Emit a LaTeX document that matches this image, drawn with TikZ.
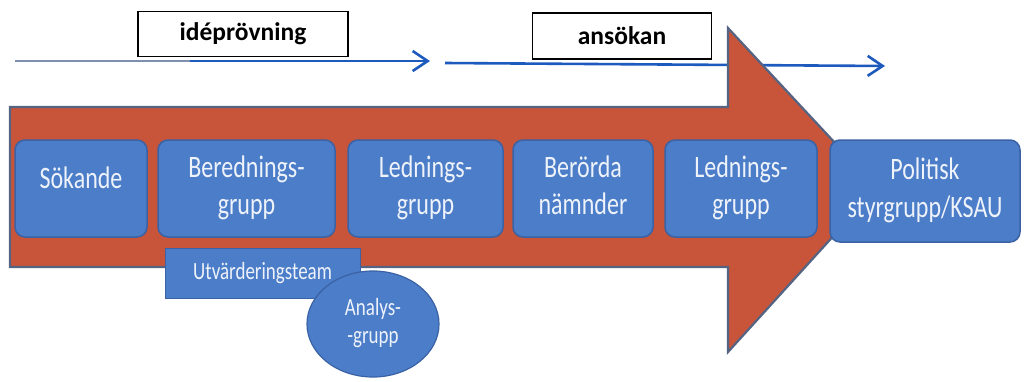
\documentclass[tikz,border=0pt]{standalone}
\usepackage{fontspec}
\setmainfont{Carlito}
\usetikzlibrary{arrows.meta,shapes.geometric}
\definecolor{arrowred}{RGB}{200,85,58}
\definecolor{arrowedge}{RGB}{85,100,130}
\definecolor{boxblue}{RGB}{75,125,200}
\definecolor{boxedge}{RGB}{58,98,165}
\definecolor{lineblue}{RGB}{30,90,190}
\definecolor{linegray}{RGB}{125,145,175}
\definecolor{txt}{RGB}{238,242,250}
\newcommand{\vst}[1]{\scalebox{1}[1.3]{\begin{tabular}{@{}c@{}}#1\end{tabular}}}
\tikzset{
  stepbox/.style={draw=boxedge, line width=1.5pt, fill=boxblue, rounded corners=10pt,
    text=txt, font=\fontsize{24}{29}\selectfont, inner sep=0pt, minimum height=97pt},
  labelbox/.style={draw=black, line width=1.6pt, fill=white, inner sep=0pt,
    font=\fontsize{25.5}{30}\selectfont\bfseries},
  flow/.style={draw=lineblue, line width=2.6pt, -{Straight Barb[length=15pt,width=20pt,line width=2.6pt]}},
  bigarrow/.style={draw=arrowedge, line width=2.2pt, fill=arrowred, line join=miter},
  smallbox/.style={draw=boxedge, line width=1.2pt, fill=boxblue, inner sep=0pt},
  smalltext/.style={text=txt, font=\fontsize{19}{22}\selectfont, inner sep=0pt}
}
\begin{document}
\begin{tikzpicture}[x=1pt,y=-1pt]
\useasboundingbox (0,0) rectangle (1028,381);
% flow lines
\coordinate (l1s) at (15,61);
\coordinate (l1m) at (190,61);
\coordinate (l1e) at (430,61);
\coordinate (l2s) at (445,63);
\coordinate (l2e) at (885,66);
\draw[linegray, line width=2.6pt] (l1s) -- (l1m);
\draw[flow] (l1m) -- (l1e);
\draw[flow] (l2s) -- (l2e);
% phase labels
\node[labelbox, minimum width=210pt, minimum height=45pt] (ide) at (243,34) {idéprövning};
\node[labelbox, minimum width=179pt, minimum height=46pt] (ans) at (622,36) {ansökan};
% big arrow
\draw[bigarrow] (10,107) -- (728,107) -- (728,28) -- (877,188) -- (728,352) -- (728,267) -- (10,267) -- cycle;
% steps
\node[stepbox, minimum width=132pt] (sok) at (81,188.5) {\raisebox{26pt}{\vst{Sökande}}};
\node[stepbox, minimum width=177pt] (ber) at (246.5,188.5) {\vst{Berednings-\\grupp}};
\node[stepbox, minimum width=155pt] (led1) at (425.5,188.5) {\vst{Lednings-\\grupp}};
\node[stepbox, minimum width=140pt] (nam) at (583,188.5) {\vst{Berörda\\nämnder}};
\node[stepbox, minimum width=152pt] (led2) at (741,188.5) {\vst{Lednings-\\grupp}};
\node[stepbox, minimum width=190pt, minimum height=102pt] (pol) at (925,191) {\vst{Politisk\\styrgrupp/KSAU}};
% evaluation team
\node[smallbox, minimum width=195pt, minimum height=50pt, anchor=north west] (utv) at (165,248) {};
\node[smalltext, anchor=west] (utvt) at (193,273) {\scalebox{1}[1.3]{Utvärderingsteam}};
% analysis group
\node[smallbox, ellipse, minimum width=132pt, minimum height=106pt, smalltext, draw=boxedge, fill=boxblue] (ana) at (373,324)
  {\scalebox{1}[1.3]{\fontsize{19}{21.5}\selectfont\begin{tabular}{@{}c@{}}Analys-\\-grupp\end{tabular}}};
\end{tikzpicture}
\end{document}
